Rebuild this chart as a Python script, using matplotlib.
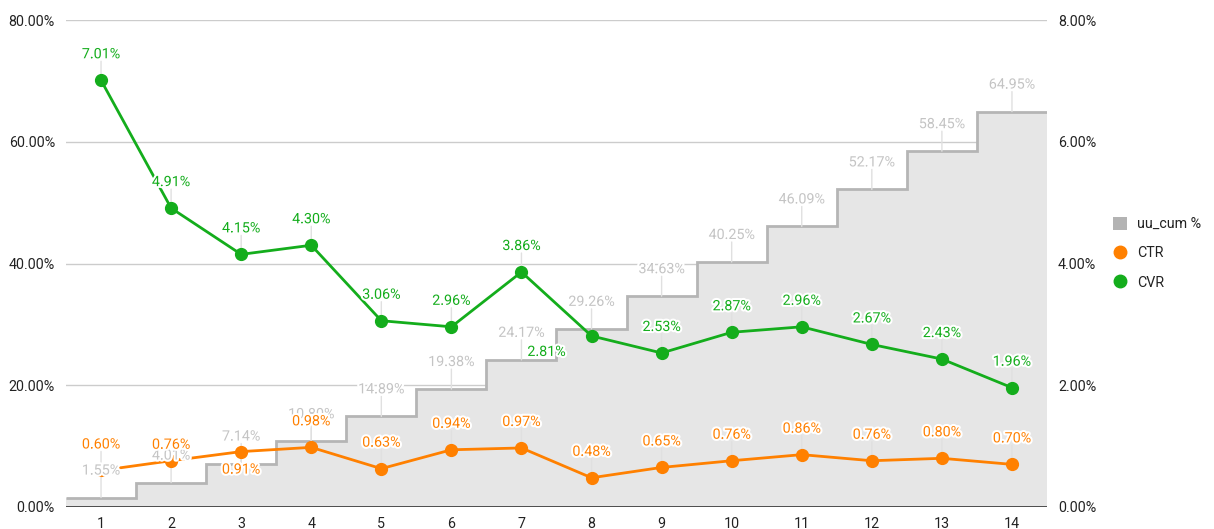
import matplotlib
matplotlib.use("Agg")
import matplotlib.pyplot as plt
import matplotlib.patheffects as pe
import numpy as np
from matplotlib.lines import Line2D
from matplotlib.patches import Patch

plt.rcParams['font.family'] = ['Roboto', 'DejaVu Sans']

cats = list(range(1, 15))
uu_cum = [1.55, 4.01, 7.14, 10.80, 14.89, 19.38, 24.17, 29.26, 34.63, 40.25, 46.09, 52.17, 58.45, 64.95]
ctr = [0.60, 0.76, 0.91, 0.98, 0.63, 0.94, 0.97, 0.48, 0.65, 0.76, 0.86, 0.76, 0.80, 0.70]
cvr = [7.01, 4.91, 4.15, 4.30, 3.06, 2.96, 3.86, 2.81, 2.53, 2.87, 2.96, 2.67, 2.43, 1.96]
left_ticks = [0, 20, 40, 60, 80]
right_ticks = [0, 2, 4, 6, 8]

C_GRAY_LINE = '#b5b5b5'
C_GRAY_FILL = '#e6e6e6'
C_GRAY_TXT = '#c4c4c4'
C_ORANGE = '#ff8000'
C_GREEN = '#14ad1c'
C_TXT = '#222222'
C_LEADER = '#e0e0e0'
FS = 10.3

fig = plt.figure(figsize=(12.14, 5.29), dpi=100)
ax = fig.add_axes([66 / 1214, 22 / 529, 981 / 1214, 487 / 529])
ax2 = ax.twinx()

x = np.array(cats)
edges = np.arange(0.5, len(cats) + 1, 1.0)

ax.set_xlim(0.5, len(cats) + 0.5)
ax.set_ylim(0, 80)
ax2.set_ylim(0, 8)

# grid
for t in left_ticks[1:]:
    ax.axhline(t, color='#cccccc', lw=1, zorder=0)

# stepped area
ax.stairs(uu_cum, edges, baseline=0, fill=True, color=C_GRAY_FILL, zorder=1)
ax.stairs(uu_cum, edges, baseline=None, color=C_GRAY_LINE, lw=2, zorder=2)
ax.axhline(0, color='#333333', lw=1.2, zorder=3)

# rate lines (drawn on ax, scaled by right axis)
ax.plot(x, ctr, color=C_ORANGE, lw=2, marker='o', ms=8.5, zorder=4, transform=ax2.transData)
ax.plot(x, cvr, color=C_GREEN, lw=2, marker='o', ms=8.5, zorder=4, transform=ax2.transData)

halo = [pe.withStroke(linewidth=3, foreground='white')]


def label(xv, yv, txt, color, trans, dy=26, dx=0, z=5, leader=True):
    if leader:
        # thin stem from the point towards the label, kept under the lines
        end = dy - 7 if dy > 0 else dy + 7
        ax.annotate('', xy=(xv, yv), xycoords=trans, xytext=(dx, end), textcoords='offset pixels',
                    arrowprops=dict(arrowstyle='-', color=C_LEADER, lw=1, shrinkA=0, shrinkB=0),
                    zorder=2.5)
    ax.annotate(txt, xy=(xv, yv), xycoords=trans, xytext=(dx, dy), textcoords='offset pixels',
                ha='center', va='center', fontsize=FS, color=color, zorder=z, path_effects=halo)


for xi, v in zip(x, uu_cum):
    label(xi, v, f'{v:.2f}%', C_GRAY_TXT, ax.transData, dy=27, z=6)

ctr_dy = {2: 16, 3: -18}
for xi, v in zip(x, ctr):
    label(xi, v, f'{v:.2f}%', C_ORANGE, ax2.transData, dy=ctr_dy.get(xi, 26), z=8)

for xi, v in zip(x, cvr):
    if xi == 8:
        label(xi, v, f'{v:.2f}%', C_GREEN, ax2.transData, dy=-16, dx=-45, z=8, leader=False)
    else:
        label(xi, v, f'{v:.2f}%', C_GREEN, ax2.transData, dy=26, z=8)

# axes styling
ax.set_xticks(x)
ax.set_xticklabels([str(c) for c in cats])
ax.set_yticks(left_ticks)
ax.set_yticklabels([f'{t:.2f}%' for t in left_ticks])
ax2.set_yticks(right_ticks)
ax2.set_yticklabels([f'{t:.2f}%' for t in right_ticks])
for a in (ax, ax2):
    for s in a.spines.values():
        s.set_visible(False)
    a.tick_params(length=0, labelsize=FS, labelcolor=C_TXT)
ax.tick_params(axis='y', pad=8)
ax2.tick_params(axis='y', pad=8)
ax.tick_params(axis='x', pad=7)

handles = [
    Patch(facecolor='#b3b3b3', edgecolor='none', label='uu_cum %'),
    Line2D([], [], marker='o', color='none', markerfacecolor=C_ORANGE, markeredgecolor=C_ORANGE, ms=9, label='CTR'),
    Line2D([], [], marker='o', color='none', markerfacecolor=C_GREEN, markeredgecolor=C_GREEN, ms=9, label='CVR'),
]
fig.legend(handles=handles, loc='upper left', bbox_to_anchor=(1107 / 1214, 1 - 211 / 529), frameon=False,
           fontsize=FS, labelcolor=C_TXT, handlelength=1.0, handleheight=1.0, handletextpad=0.7,
           labelspacing=1.05, borderaxespad=0)

fig.savefig('out.png', dpi=100)
